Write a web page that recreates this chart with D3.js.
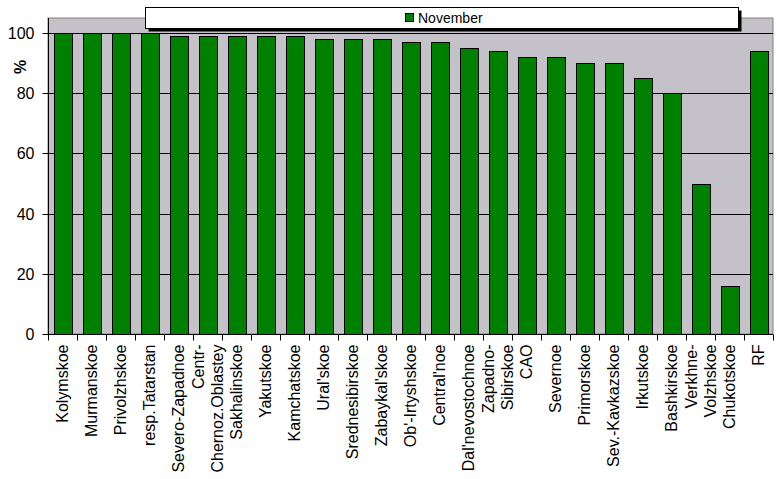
<!DOCTYPE html>
<html><head><meta charset="utf-8">
<script src="https://cdn.jsdelivr.net/npm/d3@7"></script>
<style>body{margin:0;background:#fff}svg{display:block;font-family:Arial,"Liberation Sans",sans-serif}</style>
</head><body>
<svg id="c" width="777" height="479"></svg>
<script>
const categories = ["Kolymskoe","Murmanskoe","Privolzhskoe","resp.Tatarstan","Severo-Zapadnoe","Centr-\nChernoz.Oblastey","Sakhalinskoe","Yakutskoe","Kamchatskoe","Ural'skoe","Srednesibirskoe","Zabaykal'skoe","Ob'-Irtyshskoe","Central'noe","Dal'nevostochnoe","Zapadno-\nSibirskoe","CAO","Severnoe","Primorskoe","Sev.-Kavkazskoe","Irkutskoe","Bashkirskoe","Verkhne-\nVolzhskoe","Chukotskoe","RF"];
const november = [100,100,100,100,99,99,99,99,99,98,98,98,97,97,95,94,92,92,90,90,85,80,50,16,94];
const yTicks = [0,20,40,60,80,100];
const seriesName = "November";

const svg = d3.select("#c");
const m = {l:48, r:773, t:18, b:334};
const x = d3.scaleBand().domain(categories).range([m.l, m.r]).paddingInner(0.38).paddingOuter(0.19);
const xb = d3.scaleBand().domain(categories).range([m.l, m.r]);
const y = d3.scaleLinear().domain([0,105]).range([m.b, m.t]);

svg.append("rect").attr("x",m.l).attr("y",m.t).attr("width",m.r-m.l).attr("height",m.b-m.t)
  .attr("fill","#c4c2c8").attr("stroke","#808080");

svg.append("g").selectAll("line").data(yTicks.filter(d=>d>0)).join("line")
  .attr("x1",m.l).attr("x2",m.r).attr("y1",d=>Math.round(y(d))+0.5).attr("y2",d=>Math.round(y(d))+0.5)
  .attr("stroke","#000");

svg.append("g").selectAll("rect").data(november).join("rect")
  .attr("x",(d,i)=>Math.round(x(categories[i]))+0.5)
  .attr("width",Math.round(x.bandwidth()))
  .attr("y",d=>Math.round(y(d))+0.5)
  .attr("height",d=>Math.round(y(0))-Math.round(y(d)))
  .attr("fill","#008000").attr("stroke","#000");

// y axis
const ya = svg.append("g").attr("transform",`translate(${m.l+0.5},0)`)
  .call(d3.axisLeft(y).tickValues(yTicks).tickSize(6).tickPadding(8));
ya.selectAll("path").attr("d",`M0,${m.t}V${m.b}`).attr("stroke","#000");
ya.selectAll(".tick line").attr("stroke","#000");
ya.selectAll(".tick").attr("transform",d=>`translate(0,${Math.round(y(d))+0.5})`);
ya.selectAll("text").attr("font-size",16).attr("font-family","Arial, Liberation Sans").attr("fill","#000");

// x axis
const xa = svg.append("g").attr("transform",`translate(0,${m.b+0.5})`);
xa.append("line").attr("x1",m.l).attr("x2",m.r).attr("stroke","#000");
xa.selectAll(".tk").data(d3.range(categories.length+1)).join("line")
  .attr("x1",i=>Math.round(m.l + i*xb.step())+0.5).attr("x2",i=>Math.round(m.l + i*xb.step())+0.5)
  .attr("y1",0).attr("y2",6).attr("stroke","#000");

const lbl = svg.append("g");
categories.forEach(c=>{
  const lines = c.split("\n");
  const cx = xb(c)+xb.bandwidth()/2;
  const gap = 19;
  lines.forEach((t,j)=>{
    const off = (j-(lines.length-1)/2)*gap;
    lbl.append("text").attr("transform",`translate(${cx+off},344.5) rotate(-90)`)
      .attr("text-anchor","end").attr("dy","0.35em")
      .attr("font-size",16).attr("fill","#000").text(t);
  });
});

svg.append("text").attr("transform","translate(20,67) rotate(-90)").attr("text-anchor","middle")
  .attr("dy","0.35em").attr("font-size",16).attr("font-weight","bold").text("%");

// legend
const lg = svg.append("g");
lg.append("rect").attr("x",148.5).attr("y",10.5).attr("width",593).attr("height",21).attr("fill","#000");
lg.append("rect").attr("x",145.5).attr("y",7.5).attr("width",593).attr("height",21).attr("fill","#fff").attr("stroke","#000");
lg.append("rect").attr("x",405.5).attr("y",13.5).attr("width",8).attr("height",8).attr("fill","#008000").attr("stroke","#000");
lg.append("text").attr("x",418).attr("y",18).attr("dy","0.35em").attr("font-size",14).text(seriesName);
</script>
</body></html>
